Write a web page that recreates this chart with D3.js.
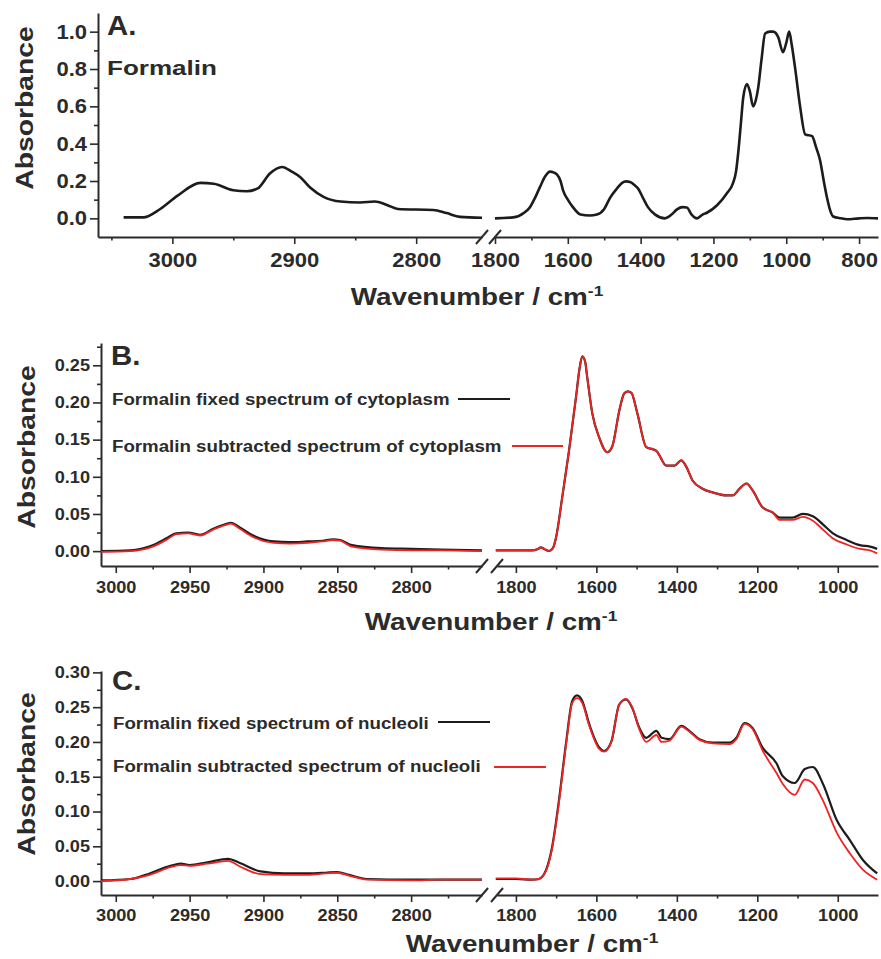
<!DOCTYPE html>
<html>
<head>
<meta charset="utf-8">
<script src="https://cdnjs.cloudflare.com/ajax/libs/d3/7.8.5/d3.min.js"></script>
<style>
  body { margin: 0; background: #fff; }
  svg { display: block; font-family: "Liberation Sans", Arial, sans-serif; }
</style>
</head>
<body>
<svg id="chart"></svg>
<script>
// values (wavenumber in cm-1, absorbance)

// A. formalin
var aWaveHigh = [3040, 3024, 3010, 2996, 2977, 2966, 2950, 2939, 2930, 2920, 2910, 2902, 2895, 2887, 2876, 2862, 2846, 2834, 2824, 2815, 2786, 2775, 2764, 2746];
var aAbsHigh = [0.005, 0.005, 0.05, 0.12, 0.19, 0.185, 0.15, 0.145, 0.16, 0.24, 0.275, 0.25, 0.22, 0.165, 0.115, 0.09, 0.085, 0.09, 0.072, 0.05, 0.045, 0.028, 0.008, 0.003];
var aWaveLow = [1800, 1750, 1720, 1704, 1690, 1676, 1662, 1649, 1638, 1630, 1620, 1613, 1600, 1586, 1565, 1540, 1520, 1500, 1484, 1465, 1451, 1440, 1429, 1418, 1407, 1395, 1380, 1360, 1333, 1315, 1300, 1285, 1273, 1260, 1245, 1230, 1218, 1190, 1163, 1146, 1138, 1132, 1125, 1118, 1108, 1100, 1091, 1084, 1077, 1068, 1058, 1045, 1036, 1022, 1009, 1000, 992, 985, 976, 962, 948, 929, 918, 907, 897, 888, 879, 871, 850, 833, 800, 778, 748];
var aAbsLow = [0.0, 0.005, 0.03, 0.06, 0.11, 0.17, 0.225, 0.25, 0.245, 0.235, 0.2, 0.15, 0.1, 0.06, 0.02, 0.015, 0.02, 0.05, 0.11, 0.16, 0.19, 0.198, 0.195, 0.18, 0.16, 0.115, 0.06, 0.02, 0.0, 0.02, 0.048, 0.06, 0.058, 0.02, 0.0, 0.02, 0.03, 0.07, 0.134, 0.19, 0.25, 0.35, 0.5, 0.65, 0.72, 0.68, 0.6, 0.63, 0.7, 0.85, 0.99, 1.0, 1.0, 0.97, 0.89, 0.94, 1.0, 0.93, 0.81, 0.6, 0.45, 0.44, 0.38, 0.31, 0.2, 0.11, 0.04, 0.01, 0.0, -0.005, 0.0, 0.002, 0.0];

// B. cytoplasm
var bWaveHigh = [3010, 2990, 2975, 2965, 2959, 2951, 2943, 2934, 2926, 2922, 2916, 2907, 2893, 2882, 2870, 2860, 2853, 2848, 2840, 2820, 2800, 2780, 2752];
var bFixedHigh = [0.0, 0.001, 0.008, 0.018, 0.024, 0.025, 0.022, 0.03, 0.036, 0.038, 0.032, 0.021, 0.013, 0.012, 0.013, 0.014, 0.016, 0.015, 0.008, 0.004, 0.003, 0.002, 0.001];
var bSubHigh = [-0.001, 0.0, 0.006, 0.016, 0.023, 0.024, 0.021, 0.029, 0.035, 0.037, 0.03, 0.019, 0.011, 0.01, 0.011, 0.013, 0.015, 0.014, 0.006, 0.002, 0.001, 0.001, 0.0];
var bWaveLow = [1850, 1800, 1760, 1745, 1738, 1730, 1718, 1708, 1700, 1685, 1668, 1650, 1642, 1635, 1628, 1623, 1610, 1593, 1573, 1561, 1543, 1531, 1522, 1513, 1498, 1476, 1460, 1451, 1426, 1406, 1389, 1376, 1361, 1336, 1311, 1277, 1261, 1244, 1227, 1212, 1187, 1162, 1144, 1112, 1087, 1062, 1037, 1012, 978, 945, 920, 902];
var bFixedLow = [0.001, 0.001, 0.001, 0.003, 0.005, 0.003, 0.0, 0.004, 0.019, 0.072, 0.135, 0.21, 0.245, 0.262, 0.255, 0.235, 0.185, 0.153, 0.133, 0.14, 0.189, 0.212, 0.215, 0.213, 0.185, 0.14, 0.137, 0.135, 0.115, 0.115, 0.122, 0.113, 0.095, 0.084, 0.079, 0.075, 0.075, 0.084, 0.091, 0.082, 0.059, 0.052, 0.045, 0.045, 0.05, 0.047, 0.036, 0.024, 0.015, 0.008, 0.006, 0.003];
var bSubLow = [0.001, 0.001, 0.001, 0.003, 0.005, 0.003, 0.0, 0.004, 0.019, 0.072, 0.135, 0.21, 0.245, 0.262, 0.255, 0.235, 0.185, 0.153, 0.133, 0.14, 0.189, 0.212, 0.215, 0.213, 0.185, 0.14, 0.137, 0.135, 0.115, 0.115, 0.122, 0.113, 0.095, 0.084, 0.079, 0.075, 0.075, 0.084, 0.091, 0.082, 0.059, 0.052, 0.042, 0.042, 0.046, 0.041, 0.029, 0.017, 0.009, 0.003, 0.001, -0.003];

// C. nucleoli
var cWaveHigh = [3010, 2990, 2977, 2963, 2956, 2950, 2938, 2924, 2916, 2902, 2886, 2870, 2858, 2850, 2842, 2830, 2800, 2780, 2752];
var cFixedHigh = [0.001, 0.003, 0.011, 0.022, 0.025, 0.023, 0.027, 0.032, 0.026, 0.014, 0.011, 0.011, 0.012, 0.013, 0.009, 0.003, 0.002, 0.002, 0.002];
var cSubHigh = [0.0, 0.003, 0.009, 0.02, 0.023, 0.022, 0.025, 0.029, 0.021, 0.01, 0.009, 0.009, 0.011, 0.012, 0.008, 0.002, 0.001, 0.002, 0.002];
var cWaveLow = [1850, 1800, 1760, 1743, 1725, 1710, 1693, 1675, 1660, 1648, 1635, 1618, 1593, 1581, 1563, 1543, 1526, 1511, 1493, 1476, 1451, 1438, 1418, 1389, 1369, 1344, 1311, 1269, 1252, 1232, 1212, 1187, 1152, 1137, 1107, 1082, 1062, 1037, 1002, 970, 937, 902];
var cFixedLow = [0.003, 0.003, 0.002, 0.003, 0.016, 0.049, 0.116, 0.2, 0.259, 0.267, 0.259, 0.226, 0.192, 0.187, 0.2, 0.254, 0.261, 0.249, 0.22, 0.206, 0.216, 0.206, 0.204, 0.223, 0.216, 0.204, 0.199, 0.199, 0.206, 0.227, 0.22, 0.192, 0.169, 0.151, 0.141, 0.161, 0.164, 0.14, 0.087, 0.059, 0.03, 0.011];
var cSubLow = [0.004, 0.004, 0.002, 0.003, 0.015, 0.047, 0.113, 0.198, 0.256, 0.263, 0.256, 0.224, 0.19, 0.186, 0.2, 0.254, 0.262, 0.25, 0.218, 0.2, 0.21, 0.2, 0.202, 0.222, 0.215, 0.203, 0.198, 0.197, 0.204, 0.226, 0.219, 0.188, 0.155, 0.14, 0.124, 0.146, 0.141, 0.116, 0.069, 0.04, 0.016, 0.002];

// tick labels
var aTicksHigh = [3000, 2900, 2800];
var aTicksLow = [1800, 1600, 1400, 1200, 1000, 800];
var aTicksY = [0, 0.2, 0.4, 0.6, 0.8, 1.0];
var bcTicksHigh = [3000, 2950, 2900, 2850, 2800];
var bcTicksLow = [1800, 1600, 1400, 1200, 1000];
var bTicksY = [0, 0.05, 0.10, 0.15, 0.20, 0.25];
var cTicksY = [0, 0.05, 0.10, 0.15, 0.20, 0.25, 0.30];

var seriesNames = ['Formalin fixed spectrum of cytoplasm', 'Formalin subtracted spectrum of cytoplasm',
                   'Formalin fixed spectrum of nucleoli', 'Formalin subtracted spectrum of nucleoli'];

var ink = '#2b2b2b';
var red = '#f02323';

var svg = d3.select('#chart').attr('width', 881).attr('height', 959);

function pairs(w, v) {
    return w.map(function (d, i) { return [d, v[i]]; });
}

// text with a horizontal stretch, the original font is wider than Arial
function label(g, x, y, s, size, sx, anchor, rot) {
    return g.append('text')
        .attr('transform', 'translate(' + x + ',' + y + ')' + (rot ? ' rotate(-90)' : '') + ' scale(' + sx + ',1)')
        .attr('font-size', size)
        .attr('font-weight', 'bold')
        .attr('fill', ink)
        .attr('text-anchor', anchor || 'start')
        .text(s);
}

function styleAxis(a, size, sx, isY, pad) {
    a.select('.domain').attr('stroke', ink).attr('stroke-width', 2);
    a.selectAll('.tick line').attr('stroke', ink).attr('stroke-width', 1.6);
    a.selectAll('.tick text')
        .attr('fill', ink)
        .attr('font-size', size)
        .attr('font-weight', 'bold')
        .attr('font-family', '"Liberation Sans", Arial, sans-serif')
        .attr('transform', 'scale(' + sx + ',1)');
    if (isY) a.selectAll('.tick text').attr('x', -pad / sx);
}

function drawPanel(p) {
    var g = svg.append('g');
    var y = d3.scaleLinear().domain(p.yDomain).range(p.yRange);
    var xHi = d3.scaleLinear().domain(p.hiDomain).range(p.hiRange);
    var xLo = d3.scaleLinear().domain(p.loDomain).range(p.loRange);
    var base = p.yRange[0];

    // minor ticks first
    [[xHi, p.hiMinor], [xLo, p.loMinor]].forEach(function (s) {
        g.append('g').attr('transform', 'translate(0,' + base + ')')
            .call(d3.axisBottom(s[0]).tickValues(s[1]).tickSize(3.5).tickFormat(''))
            .call(function (a) { a.select('.domain').remove(); a.selectAll('line').attr('stroke', ink).attr('stroke-width', 1.6); });
    });
    g.append('g').attr('transform', 'translate(' + p.hiRange[0] + ',0)')
        .call(d3.axisLeft(y).tickValues(p.yMinor).tickSize(4).tickFormat(''))
        .call(function (a) { a.select('.domain').remove(); a.selectAll('line').attr('stroke', ink).attr('stroke-width', 1.6); });

    // major axes
    g.append('g').attr('transform', 'translate(0,' + base + ')')
        .call(d3.axisBottom(xHi).tickValues(p.hiTicks).tickSize(7).tickSizeOuter(0).tickPadding(p.xPad).tickFormat(d3.format('d')))
        .call(styleAxis, p.tickSize, p.tickSx, false);
    g.append('g').attr('transform', 'translate(0,' + base + ')')
        .call(d3.axisBottom(xLo).tickValues(p.loTicks).tickSize(7).tickSizeOuter(0).tickPadding(p.xPad).tickFormat(d3.format('d')))
        .call(styleAxis, p.tickSize, p.tickSx, false);
    g.append('g').attr('transform', 'translate(' + p.hiRange[0] + ',0)')
        .call(d3.axisLeft(y).tickValues(p.yTicks).tickSize(8).tickSizeOuter(0).tickFormat(d3.format(p.yFormat)))
        .call(styleAxis, p.tickSize, p.tickSx, true, 11);

    // axis break marks
    [p.hiRange[1], p.loRange[0]].forEach(function (bx) {
        g.append('line').attr('x1', bx - 6).attr('y1', base + 7).attr('x2', bx + 6).attr('y2', base - 7)
            .attr('stroke', ink).attr('stroke-width', 2);
    });

    // curves
    p.series.forEach(function (s) {
        [[xHi, s.hi], [xLo, s.lo]].forEach(function (seg) {
            var line = d3.line()
                .x(function (d) { return seg[0](d[0]); })
                .y(function (d) { return y(d[1]); })
                .curve(d3.curveMonotoneX);
            g.append('path').datum(seg[1])
                .attr('d', line)
                .attr('fill', 'none')
                .attr('stroke', s.color)
                .attr('stroke-width', s.width)
                .attr('stroke-linejoin', 'round');
        });
    });

    // legend
    (p.legend || []).forEach(function (l) {
        label(g, l.tx, l.ty, l.text, 17, 1.1, 'start');
        g.append('line').attr('x1', l.x1).attr('x2', l.x2).attr('y1', l.ly).attr('y2', l.ly)
            .attr('stroke', l.color).attr('stroke-width', 2);
    });

    // panel letter
    label(g, p.letter.x, p.letter.y, p.letter.text, 28, 1.05, 'start');

    // axis titles
    label(g, p.yTitle.x, p.yTitle.y, 'Absorbance', 24, 1.18, 'middle', true);
    var t = label(g, p.xTitle.x, p.xTitle.y, '', 24, 1.16, 'middle');
    t.append('tspan').text('Wavenumber / cm');
    t.append('tspan').attr('font-size', 15).attr('dy', -9).text('-1');
    return g;
}

// A
var pA = drawPanel({
    yDomain: [-0.1, 1.1], yRange: [237, 13], yTicks: aTicksY, yMinor: [0.1, 0.3, 0.5, 0.7, 0.9], yFormat: '.1f',
    hiDomain: [3061, 2746], hiRange: [98, 482], hiTicks: aTicksHigh, hiMinor: [3050, 2950, 2850],
    loDomain: [1800, 748], loRange: [495, 878], loTicks: aTicksLow, loMinor: [1700, 1500, 1300, 1100, 900],
    tickSize: 20, tickSx: 1.1, xPad: 9,
    series: [{ hi: pairs(aWaveHigh, aAbsHigh), lo: pairs(aWaveLow, aAbsLow), color: '#1c1c1c', width: 2.6 }],
    letter: { x: 107, y: 35, text: 'A.' },
    yTitle: { x: 33, y: 108 },
    xTitle: { x: 477, y: 305 }
});
label(pA, 107, 75, 'Formalin', 21, 1.24, 'start');

// B
drawPanel({
    yDomain: [-0.02, 0.28], yRange: [566, 343], yTicks: bTicksY,
    yMinor: [0.025, 0.075, 0.125, 0.175, 0.225, 0.275], yFormat: '.2f',
    hiDomain: [3010, 2752], hiRange: [101, 482], hiTicks: bcTicksHigh, hiMinor: [2975, 2925, 2875, 2825, 2775],
    loDomain: [1847, 900], loRange: [497, 878], loTicks: bcTicksLow, loMinor: [1700, 1500, 1300, 1100],
    tickSize: 16.5, tickSx: 1.1, xPad: 8,
    series: [
        { hi: pairs(bWaveHigh, bFixedHigh), lo: pairs(bWaveLow, bFixedLow), color: '#1c1c1c', width: 2.2 },
        { hi: pairs(bWaveHigh, bSubHigh), lo: pairs(bWaveLow, bSubLow), color: red, width: 1.8 }
    ],
    legend: [
        { text: seriesNames[0], tx: 112, ty: 405, x1: 458, x2: 510, ly: 399, color: '#1c1c1c' },
        { text: seriesNames[1], tx: 112, ty: 452, x1: 512, x2: 563, ly: 446, color: red }
    ],
    letter: { x: 111, y: 365, text: 'B.' },
    yTitle: { x: 35, y: 447 },
    xTitle: { x: 491, y: 630 }
});

// C
drawPanel({
    yDomain: [-0.02, 0.302], yRange: [895, 671], yTicks: cTicksY,
    yMinor: [0.025, 0.075, 0.125, 0.175, 0.225, 0.275], yFormat: '.2f',
    hiDomain: [3010, 2752], hiRange: [101, 482], hiTicks: bcTicksHigh, hiMinor: [2975, 2925, 2875, 2825, 2775],
    loDomain: [1847, 900], loRange: [497, 878], loTicks: bcTicksLow, loMinor: [1700, 1500, 1300, 1100],
    tickSize: 16.5, tickSx: 1.1, xPad: 7,
    series: [
        { hi: pairs(cWaveHigh, cFixedHigh), lo: pairs(cWaveLow, cFixedLow), color: '#1c1c1c', width: 2.2 },
        { hi: pairs(cWaveHigh, cSubHigh), lo: pairs(cWaveLow, cSubLow), color: red, width: 1.8 }
    ],
    legend: [
        { text: seriesNames[2], tx: 113, ty: 729, x1: 438, x2: 490, ly: 722, color: '#1c1c1c' },
        { text: seriesNames[3], tx: 113, ty: 772, x1: 494, x2: 546, ly: 767, color: red }
    ],
    letter: { x: 112, y: 690, text: 'C.' },
    yTitle: { x: 35, y: 774 },
    xTitle: { x: 532, y: 952 }
});
</script>
</body>
</html>
